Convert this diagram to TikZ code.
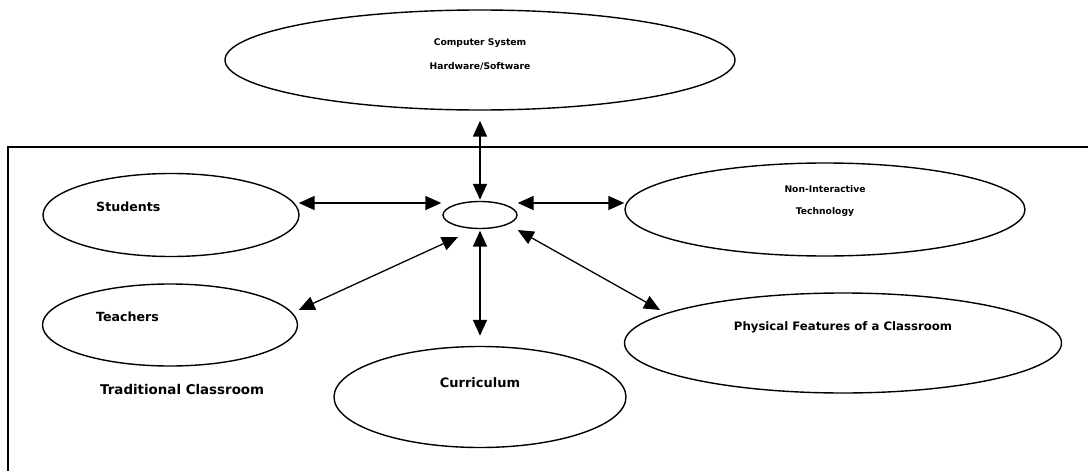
\documentclass[tikz,border=0pt]{standalone}
\usepackage{fontspec}
\setmainfont{DejaVu Sans}
\usetikzlibrary{shapes.geometric,arrows.meta}
\tikzset{
  ell/.style={draw, ellipse, line width=1.4pt, inner sep=0pt},
  lbl/.style={font=\bfseries, inner sep=0pt},
  arr/.style={line width=1.8pt, {Triangle[length=16pt,width=14pt]}-{Triangle[length=16pt,width=14pt]}},
  darr/.style={line width=1.3pt, {Triangle[length=16pt,width=14pt]}-{Triangle[length=16pt,width=14pt]}}
}
\begin{document}
\begin{tikzpicture}[x=1pt,y=-1pt]
\useasboundingbox (0,0) rectangle (1088,471);
% frame
\coordinate (fr1) at (1090,147);
\coordinate (fr2) at (8,147);
\coordinate (fr3) at (8,473);
\draw[line width=1.6pt] (fr1) -- (fr2) -- (fr3);
% ellipses
\node[ell, minimum width=510pt, minimum height=100pt] (cs) at (480,60) {};
\node[ell, minimum width=256pt, minimum height=83pt] (s) at (171,215) {};
\node[ell, minimum width=255pt, minimum height=82pt] (t) at (170,325) {};
\node[ell, minimum width=74pt, minimum height=27pt] (c) at (480,215) {};
\node[ell, minimum width=400pt, minimum height=93pt] (ni) at (825,209.5) {};
\node[ell, minimum width=437pt, minimum height=100pt] (pf) at (843,343) {};
\node[ell, minimum width=292pt, minimum height=101pt] (cu) at (480,397) {};
% labels
\node[lbl, font=\bfseries\fontsize{9.2}{11}\selectfont] (csl1) at (480,43) {Computer System};
\node[lbl, font=\bfseries\fontsize{9.2}{11}\selectfont] (csl2) at (480,66) {Hardware/Software};
\node[lbl, anchor=west, font=\bfseries\fontsize{12.6}{15}\selectfont] (sl) at (96,207) {Students};
\node[lbl, anchor=west, font=\bfseries\fontsize{12.6}{15}\selectfont] (tl) at (96,317) {Teachers};
\node[lbl, anchor=west, font=\bfseries\fontsize{13.4}{15}\selectfont] (tcl) at (100,390) {Traditional Classroom};
\node[lbl, font=\bfseries\fontsize{9.2}{11}\selectfont] (nil1) at (825,189) {Non-Interactive};
\node[lbl, font=\bfseries\fontsize{9.2}{11}\selectfont] (nil2) at (825,212) {Technology};
\node[lbl, font=\bfseries\fontsize{11.7}{14}\selectfont] (pfl) at (843,327) {Physical Features of a Classroom};
\node[lbl, font=\bfseries\fontsize{13}{15}\selectfont] (cul) at (480,383) {Curriculum};
% connectors
\draw[arr] ([yshift=1pt]c.north) -- ([yshift=-10pt]cs.south);
\draw[arr] ([shift={(-1pt,12pt)}]s.east) -- ([shift={(-1pt,12pt)}]c.west);
\draw[arr] ([shift={(0pt,12pt)}]c.east) -- ([yshift=6.5pt]ni.west);
\draw[arr] ([yshift=-1.5pt]c.south) -- ([yshift=10pt]cu.north);
\draw[darr] ([shift={(0.5pt,15pt)}]t.east) -- ([shift={(-22pt,-22pt)}]c.center);
\draw[darr] ([shift={(0pt,-15pt)}]c.east) -- ([shift={(-183pt,33pt)}]pf.center);
\end{tikzpicture}
\end{document}
